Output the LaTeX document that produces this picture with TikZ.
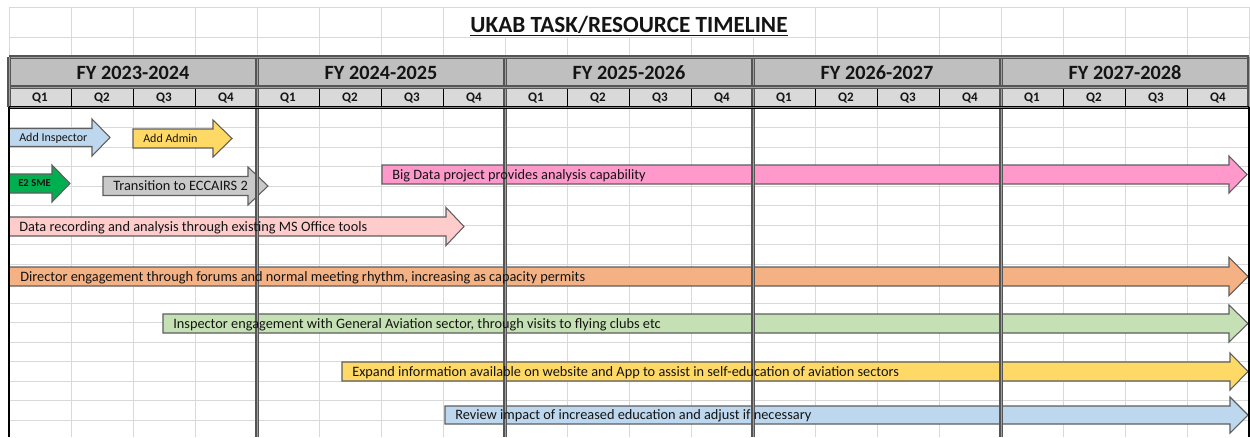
\documentclass[tikz,border=0pt]{standalone}
\usepackage{fontspec}
\setmainfont{Carlito}
\definecolor{gridc}{HTML}{D9D9D9}
\definecolor{fyfill}{HTML}{BFBFBF}
\definecolor{qfill}{HTML}{D9D9D9}
\definecolor{divc}{HTML}{555555}
\definecolor{divin}{HTML}{A0A0A0}
\definecolor{edgec}{HTML}{5E5E5E}
\definecolor{cblue}{HTML}{BDD7EE}
\definecolor{cyellow}{HTML}{FFD966}
\definecolor{cgreen}{HTML}{00B050}
\definecolor{cgray}{HTML}{C9C9C9}
\definecolor{cpink}{HTML}{FF99CC}
\definecolor{crose}{HTML}{FFCCCC}
\definecolor{corange}{HTML}{F4B183}
\definecolor{cmint}{HTML}{C5E0B4}
\definecolor{ink}{HTML}{141414}
% block arrow: #1 name, #2 fill, #3 left x, #4 shaft end x, #5 tip x,
% #6 centre y, #7 half body height, #8 half head height
\newcommand\tlarrow[8]{%
  \draw[arrowline, fill=#2] (#3,#6-#7) -- (#4,#6-#7) -- (#4,#6-#8) -- (#5,#6)
    -- (#4,#6+#8) -- (#4,#6+#7) -- (#3,#6+#7) -- cycle;
  \coordinate (#1) at (#3,#6);}
\begin{document}
\begin{tikzpicture}[x=0.75pt,y=-0.75pt,
  gridline/.style={draw=gridc, line width=0.75pt},
  arrowline/.style={draw=edgec, line width=0.8pt, line join=miter},
  yeardiv/.style={draw=divc, double=divin, double distance=0.7pt, line width=0.85pt},
  lbl/.style={inner sep=0pt, anchor=base west, text=ink, font=\fontsize{10.75pt}{12pt}\selectfont},
  smalllbl/.style={lbl, font=\fontsize{9pt}{11pt}\selectfont},
  fylbl/.style={inner sep=0pt, anchor=base, text=ink, font=\bfseries\fontsize{15.2pt}{18pt}\selectfont},
  qlbl/.style={inner sep=0pt, anchor=base, text=ink, font=\bfseries\fontsize{9.8pt}{11pt}\selectfont}]
\useasboundingbox (0,0) rectangle (1250,437);
\fill[white] (0,0) rectangle (1250,437);

% worksheet grid
\foreach \k in {0,...,7,13,14,...,20}{
  \pgfmathsetmacro\xx{9+62*\k}
  \draw[gridline] (\xx,7) -- (\xx,37);}
\foreach \k in {0,...,20}{
  \pgfmathsetmacro\xx{9+62*\k}
  \draw[gridline] (\xx,37) -- (\xx,57);
  \draw[gridline] (\xx,108) -- (\xx,437);}
\draw[gridline] (9,7) -- (1250,7);
\draw[gridline] (9,37) -- (1250,37);
\foreach \j in {1,...,17}{
  \pgfmathsetmacro\yy{108+19.5*\j}
  \draw[gridline] (9,\yy) -- (1250,\yy);}

% title
\node[inner sep=0pt, anchor=base, text=ink, font=\bfseries\fontsize{17.4pt}{20pt}\selectfont]
  (title) at (629,32) {\underline{UKAB TASK/RESOURCE TIMELINE}};

% header bands
\fill[fyfill] (9,57) rectangle (1249,87);
\fill[qfill] (9,87) rectangle (1249,107);
\foreach \k in {0,...,19}{
  \pgfmathsetmacro\xx{9+62*\k}
  \draw[black, line width=0.75pt] (\xx,87) -- (\xx,107);}

% tasks
\tlarrow{a1}{cblue}{9}{92}{110}{137.5}{9}{18.5}
\tlarrow{a2}{cyellow}{133}{213}{232}{138.5}{9.5}{18.5}
\tlarrow{a3}{cgreen}{9}{52}{70}{183.5}{9.5}{18.5}
\tlarrow{a4}{cgray}{103}{248}{268}{186}{9.5}{19}
\tlarrow{a5}{cpink}{382}{1229}{1247}{174.5}{9.5}{18.5}
\tlarrow{a6}{crose}{9}{446}{464}{226.5}{9.5}{19}
\tlarrow{a7}{corange}{9}{1229}{1248}{276.5}{9.5}{19}
\tlarrow{a8}{cmint}{163}{1229}{1248}{323.5}{9.5}{18.5}
\tlarrow{a9}{cyellow}{342}{1230}{1248}{371.5}{9.5}{18.5}
\tlarrow{a10}{cblue}{445}{1230}{1248}{415}{9}{18}

% year dividers and table edges
\foreach \k in {1,...,4}{
  \pgfmathsetmacro\xx{9+248*\k}
  \draw[yeardiv] (\xx,57) -- (\xx,437);}
\draw[yeardiv] (9,57) -- (1249,57);
\draw[yeardiv] (9,87) -- (1249,87);
\draw[yeardiv] (9,57) -- (9,107);
\draw[yeardiv] (1249,57) -- (1249,107);
\draw[black, double=gray, double distance=0.5pt, line width=0.7pt] (9,107.5) -- (1249,107.5);
\draw[black, line width=1.5pt] (9,107) -- (9,437);
\draw[black, line width=0.8pt] (1249,107) -- (1249,437);

% header labels
\foreach \k/\lab in {0/FY 2023-2024,1/FY 2024-2025,2/FY 2025-2026,3/FY 2026-2027,4/FY 2027-2028}{
  \node[fylbl] (fy\k) at (133+248*\k,79) {\lab};
  \foreach \q in {1,...,4}{
    \node[qlbl] (q\k\q) at (9+248*\k+62*\q-31,101.5) {Q\q};}}

% task labels
\node[smalllbl] (t1) at (19,141) {Add Inspector};
\node[smalllbl] (t2) at (143,142) {Add Admin};
\node[lbl, font=\bfseries\fontsize{8pt}{9pt}\selectfont] (t3) at (18,186.5) {E2 SME};
\node[lbl] (t4) at (113,190.5) {Transition to ECCAIRS 2};
\node[lbl] (t5) at (392,179) {Big Data project provides analysis capability};
\node[lbl] (t6) at (19,231) {Data recording and analysis through existing MS Office tools};
\node[lbl] (t7) at (20,281) {Director engagement through forums and normal meeting rhythm, increasing as capacity permits};
\node[lbl] (t8) at (173,328) {Inspector engagement with General Aviation sector, through visits to flying clubs etc};
\node[lbl] (t9) at (352,376) {Expand information available on website and App to assist in self-education of aviation sectors};
\node[lbl] (t10) at (455,419.5) {Review impact of increased education and adjust if necessary};
\end{tikzpicture}
\end{document}
